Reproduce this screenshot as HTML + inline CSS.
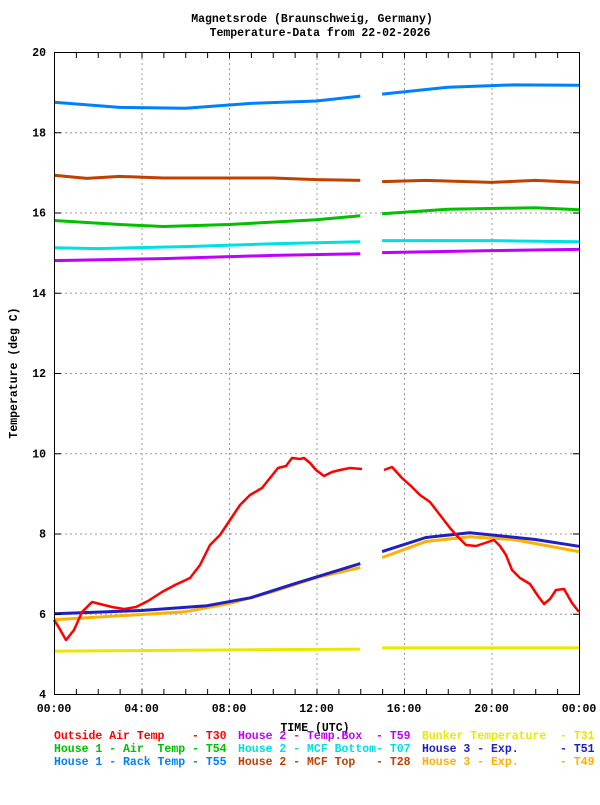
<!DOCTYPE html>
<html><head><meta charset="utf-8"><style>
body{margin:0;background:#fff}
svg text{font-family:"Liberation Mono",monospace;font-weight:bold;font-size:11.5px}
</style></head><body>
<svg id="s" width="600" height="800" viewBox="0 0 600 800" xmlns="http://www.w3.org/2000/svg">
<rect width="600" height="800" fill="#fff"/>
<text x="312" y="22" text-anchor="middle">Magnetsrode (Braunschweig, Germany)</text>
<text x="320" y="36" text-anchor="middle">Temperature-Data from 22-02-2026</text>
<g id="grid" stroke="#999" stroke-dasharray="2,3" stroke-width="1"></g>
<g id="ser" fill="none" stroke-width="3" stroke-linejoin="round"></g>
<rect x="54.5" y="52.5" width="525" height="642" fill="none" stroke="#000" stroke-width="1"/>
<g id="ticks" stroke="#000"></g>
<g id="lab"></g>
<text transform="translate(17,373) rotate(-90)" text-anchor="middle">Temperature (deg C)</text>
<text x="315" y="731" text-anchor="middle">TIME (UTC)</text>
<g>
<text x="54" y="739" fill="#ff0000" xml:space="preserve">Outside Air Temp    - T30</text>
<text x="238" y="739" fill="#c000ff" xml:space="preserve">House 2 - Temp.Box  - T59</text>
<text x="422" y="739" fill="#e8e800" xml:space="preserve">Bunker Temperature  - T31</text>
<text x="54" y="752" fill="#00c000" xml:space="preserve">House 1 - Air  Temp - T54</text>
<text x="238" y="752" fill="#00e0e0" xml:space="preserve">House 2 - MCF Bottom- T07</text>
<text x="422" y="752" fill="#2020c0" xml:space="preserve">House 3 - Exp.      - T51</text>
<text x="54" y="765" fill="#0080ff" xml:space="preserve">House 1 - Rack Temp - T55</text>
<text x="238" y="765" fill="#c04000" xml:space="preserve">House 2 - MCF Top   - T28</text>
<text x="422" y="765" fill="#ffb000" xml:space="preserve">House 3 - Exp.      - T49</text>
</g>
</svg>
<script>
var NS="http://www.w3.org/2000/svg";
function X(h){return 54+h*21.875}
function Y(v){return 694-(v-4)*40.125}
function el(p,t,a){var e=document.createElementNS(NS,t);for(var k in a)e.setAttribute(k,a[k]);if(a.txt)e.textContent=a.txt;document.getElementById(p).appendChild(e);return e}
for(var v=6;v<20;v+=2)el("grid","line",{x1:55,x2:579,y1:Y(v)+.5,y2:Y(v)+.5});
for(var h=4;h<24;h+=4)el("grid","line",{x1:X(h)+.5,x2:X(h)+.5,y1:53,y2:694});
for(var h=1;h<24;h++){el("ticks","line",{x1:X(h)+.5,x2:X(h)+.5,y1:53,y2:58});el("ticks","line",{x1:X(h)+.5,x2:X(h)+.5,y1:689,y2:694});}
for(var v=4;v<=20;v+=2){el("lab","text",{x:46,y:Y(v)+4,"text-anchor":"end",txt:String(v)});
 if(v>4&&v<20){el("ticks","line",{x1:55,x2:61,y1:Y(v)+.5,y2:Y(v)+.5});el("ticks","line",{x1:573,x2:579,y1:Y(v)+.5,y2:Y(v)+.5});}}
for(var h=0;h<=24;h+=4){var s=(h%24<10?"0":"")+(h%24)+":00";el("lab","text",{x:X(h),y:712,"text-anchor":"middle",txt:s});}
function ser(c,a,b){[a,b].forEach(function(pts){var d=pts.map(function(p){return X(p[0]).toFixed(1)+","+Y(p[1]).toFixed(1)}).join(" ");el("ser","polyline",{points:d,stroke:c});});}
ser("#0080ff",[[0,18.75],[3,18.62],[6,18.6],[9,18.72],[12,18.78],[14,18.9]],[[15,18.95],[18,19.12],[21,19.18],[24,19.17]]);
ser("#c04000",[[0,16.93],[1.5,16.85],[3,16.9],[5,16.86],[10,16.86],[12,16.82],[14,16.8]],[[15,16.77],[17,16.8],[20,16.75],[22,16.8],[24,16.75]]);
ser("#00c000",[[0,15.8],[3,15.7],[5,15.65],[8,15.7],[12,15.82],[14,15.92]],[[15,15.97],[18,16.08],[22,16.12],[24,16.07]]);
ser("#00e0e0",[[0,15.12],[2,15.1],[6,15.15],[10,15.22],[14,15.27]],[[15,15.3],[20,15.3],[24,15.27]]);
ser("#c000ff",[[0,14.8],[5,14.85],[10,14.93],[14,14.97]],[[15,15.0],[20,15.05],[24,15.08]]);
ser("#e8e800",[[0,5.07],[14,5.12]],[[15,5.15],[24,5.15]]);
ser("#ffb000",[[0,5.85],[3,5.95],[6,6.05],[8,6.25],[10,6.55],[12,6.9],[14,7.15]],[[15,7.4],[17,7.8],[19,7.92],[21,7.85],[24,7.55]]);
ser("#2020c0",[[0,6.0],[4,6.08],[7,6.2],[9,6.4],[11,6.75],[14,7.25]],[[15,7.55],[17,7.9],[19,8.02],[22,7.85],[24,7.68]]);
function red(pts){var d=pts.map(function(p){return p[0]+","+p[1]}).join(" ");el("ser","polyline",{points:d,stroke:"#ff0000","stroke-width":2.5});}
red([[54,620],[58,626],[66,640],[74,630],[82,612],[92,602],[100,604],[112,607],[124,609],[136,607],[148,601],[162,592],[175,585],[190,578],[200,565],[210,545],[220,535],[230,520],[240,505],[250,495],[262,488],[270,478],[278,468],[286,466],[292,458],[300,459],[304,458],[310,463],[316,470],[324,476],[332,472],[340,470],[350,468],[362,469]]);
red([[384,470],[392,467],[402,478],[412,487],[420,495],[430,502],[440,515],[450,528],[458,537],[466,545],[476,546],[488,542],[494,540],[500,546],[506,555],[512,570],[520,578],[530,584],[538,596],[544,604],[550,599],[556,590],[564,589],[572,603],[579,612]]);
</script>
</body></html>
